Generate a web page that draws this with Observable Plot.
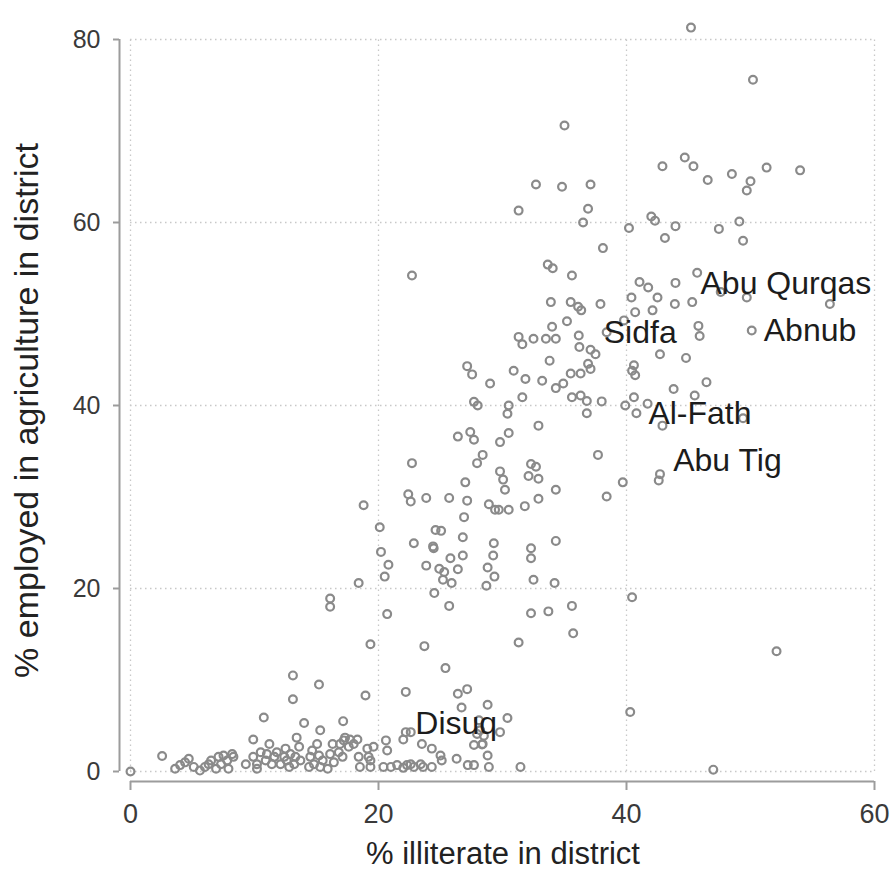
<!DOCTYPE html>
<html>
<head>
<meta charset="utf-8">
<script src="https://cdn.jsdelivr.net/npm/d3@7"></script>
<script src="https://cdn.jsdelivr.net/npm/@observablehq/plot@0.6"></script>
<style>
html, body { margin: 0; padding: 0; background: #fff; }
#chart svg { display: block; }
</style>
</head>
<body>
<div id="chart"></div>
<script>
// [% illiterate, % employed in agriculture] per district
const districtsLow = [
  [0,0],[2.55,1.7],[3.6,0.3],[4.0,0.7],[4.4,1.0],[4.7,1.4],[5.1,0.5],[5.6,0.1],[6.0,0.5],[6.3,0.8],
  [6.5,1.2],[6.9,0.3],[7.1,1.6],[7.3,0.8],[7.5,1.75],[7.8,1.2],[7.9,0.3],[8.2,1.9],[8.3,1.6],[9.3,0.8],
  [9.9,1.6],[9.9,3.5],[10.2,0.8],[10.2,0.3],[10.5,2.1],[10.9,1.2],[11.0,1.9],[11.2,3.0],[11.4,0.8],[11.6,1.6],
  [11.8,2.1],[12.1,0.8],[12.4,1.6],[12.5,2.5],[12.6,1.2],[12.8,0.5],[12.9,1.9],[13.2,0.8],[13.3,1.6],[13.4,3.7],
  [13.6,2.7],[13.7,1.2],[14.4,0.5],[14.5,1.6],[14.65,2.3],[14.8,0.8],[15.05,3.0],[15.2,1.75],[15.3,0.5],[15.5,1.2],
  [15.9,0.3],[16.1,1.9],[16.3,3.0],[16.4,1.0],[16.8,2.1],[16.9,3.0],[17.1,1.6],[17.2,3.4],[17.3,3.7],[17.6,2.7],
  [17.7,3.5],[18.0,3.0],[18.3,3.5],[18.4,1.6],[18.5,0.5],[19.1,2.5],[19.2,1.6],[19.35,0.5],[19.35,1.2],[19.6,2.7],
  [20.6,3.4],[20.7,2.3],[20.4,0.5],[21.0,0.5],[21.5,0.7],[22.0,3.5],[22.2,4.3],[22.6,4.3],[22.0,0.4],[22.3,0.7],
  [22.6,0.8],[22.85,0.5],[23.4,0.8],[23.6,0.5],[23.5,3.0],[24.3,0.5],[24.3,2.5],[25.0,1.75],[25.1,1.2],[26.3,1.4],
  [27.2,0.7],[27.7,0.7],[27.7,2.9],[28.4,3.0],[28.8,1.75],[28.9,0.5],[31.45,0.5],[27.95,4.1],[28.5,3.9],[28.2,4.5],
  [28.35,2.95],[28.1,5.6],[28.8,7.3],[29.8,4.3],[30.4,5.85],[47.0,0.2]
];
const districtsLowMid = [
  [10.75,5.9],[13.1,10.5],[13.1,7.9],[15.2,9.5],[14.0,5.3],[15.3,4.5],[17.15,5.5],[19.35,13.9],[18.95,8.3],[16.1,18.9],
  [16.1,18.0],[20.7,17.2],[25.7,18.1],[32.3,17.3],[23.7,13.7],[25.4,11.3],[31.3,14.1],[22.2,8.7],[26.4,8.5],[27.15,9.0],
  [26.7,7.0],[40.45,19.05],[52.1,13.15],[40.3,6.5],[33.7,17.5],[35.6,18.1],[35.7,15.1],[34.2,20.6],[34.3,25.2]
];
const districtsMid = [
  [27.15,44.3],[27.55,43.4],[29.0,42.4],[27.7,40.4],[28.0,40.0],[26.4,36.6],[27.4,37.1],[27.7,36.25],[29.8,36.0],[30.5,37.0],
  [32.9,37.8],[28.4,34.6],[27.95,33.7],[22.7,33.7],[29.8,32.8],[30.05,31.9],[30.2,30.8],[27.0,31.6],[32.3,33.6],[32.7,33.3],
  [32.1,32.3],[32.9,32.0],[22.4,30.3],[22.6,29.5],[23.85,29.9],[25.7,29.9],[27.15,29.6],[28.9,29.2],[29.4,28.6],[29.7,28.6],
  [30.5,28.6],[31.8,29.0],[32.9,29.8],[18.8,29.1],[26.9,27.8],[20.1,26.7],[24.6,26.4],[25.05,26.3],[22.85,24.95],[24.4,24.6],
  [24.45,24.4],[26.8,25.6],[29.3,24.95],[26.8,23.6],[29.25,23.6],[25.8,23.3],[32.3,24.4],[32.3,23.3],[20.2,24.0],[20.8,22.6],
  [20.5,21.3],[23.85,22.5],[24.9,22.15],[25.3,21.8],[25.2,20.95],[25.9,20.6],[26.4,22.1],[28.8,22.3],[29.35,21.3],[28.7,20.3],
  [32.5,20.95],[18.4,20.6],[24.5,19.5]
];
const districtsUpperMid = [
  [34.3,30.8],[39.7,31.6],[42.7,32.5],[42.6,31.8],[38.4,30.05],[37.7,34.6],[31.6,40.9],[30.5,40.0],[30.4,39.1],[30.9,43.8],
  [31.85,42.9],[33.2,42.7],[34.3,41.9],[34.9,42.4],[35.6,40.9],[36.3,41.1],[36.8,40.5],[36.8,39.15],[38.0,40.45],[39.9,40.0],
  [40.6,40.9],[40.8,39.15],[41.7,40.2],[43.8,41.8],[45.5,41.1],[46.45,42.55],[42.9,37.8],[49.4,38.6],[33.8,44.9],[36.9,44.55],
  [37.1,44.0],[36.3,43.5],[35.5,43.5],[40.6,44.4],[40.45,43.8],[40.7,43.3],[42.7,45.6],[44.8,45.2],[31.3,47.5],[31.6,46.7],
  [32.5,47.3],[33.5,47.3],[34.3,47.3],[36.15,47.65],[36.2,46.4],[37.1,46.1],[37.5,45.6],[35.2,49.2],[34.0,48.6],[38.4,48.0],
  [39.8,49.3],[45.8,48.7],[45.9,47.6],[50.1,48.2],[33.9,51.3],[35.5,51.3],[36.1,50.8],[36.35,50.4],[37.9,51.1],[40.4,51.8],
  [42.5,51.8],[43.9,51.1],[42.1,50.4],[40.7,50.2],[45.3,51.3],[47.6,52.4],[49.7,51.8],[56.4,51.1]
];
const districtsHigh = [
  [35.0,70.6],[32.7,64.15],[34.8,63.9],[37.1,64.15],[31.3,61.3],[36.9,61.5],[36.5,60.0],[40.2,59.4],[38.1,57.2],[42.0,60.65],
  [42.3,60.2],[43.95,59.6],[43.1,58.3],[42.9,66.15],[44.7,67.1],[45.4,66.15],[33.65,55.4],[34.05,55.0],[35.6,54.2],[41.05,53.5],
  [41.75,52.9],[43.95,53.4],[45.7,54.5],[22.7,54.2],[45.2,81.3],[50.2,75.6],[46.55,64.65],[48.5,65.3],[50.0,64.5],[49.7,63.5],
  [51.3,66.0],[54.0,65.7],[47.45,59.3],[49.1,60.1],[49.4,58.0]
];

// Labelled districts (position of the labelled district)
const labelNames = ["Abu Qurqas", "Sidfa", "Abnub", "Al-Fath", "Abu Tig", "Disuq"];
const labelIlliterate = [45.0, 37.2, 50.1, 40.8, 42.8, 22.0];
const labelAgriculture = [53.3, 48.0, 48.2, 39.1, 34.0, 5.25];

const xTicks = [0, 20, 40, 60];
const yTicks = [0, 20, 40, 60, 80];
const xTitle = "% illiterate in district";
const yTitle = "% employed in agriculture in district";

const districts = [...districtsLow, ...districtsLowMid, ...districtsMid, ...districtsUpperMid, ...districtsHigh]
  .map(([x, y]) => ({x, y}));
const labels = labelNames.map((name, i) => ({name, x: labelIlliterate[i], y: labelAgriculture[i]}));

const font = "'Liberation Sans', Arial, Helvetica, sans-serif";

const chart = Plot.plot({
  width: 891,
  height: 871,
  marginLeft: 119,
  marginRight: 17,
  marginTop: 39,
  marginBottom: 90,
  x: {domain: [0, 60], insetLeft: 11},
  y: {domain: [0, 80], insetBottom: 10},
  style: {fontFamily: font, background: "#fff", overflow: "visible"},
  marks: [
    // dotted grid
    Plot.ruleX(xTicks, {y1: 0, y2: 80, stroke: "#c8c8c8", strokeWidth: 1.3, strokeDasharray: "1.5,3.5"}),
    Plot.ruleY(yTicks, {x1: 0, x2: 60, stroke: "#c8c8c8", strokeWidth: 1.3, strokeDasharray: "1.5,3.5"}),
    // axis lines (offset from the data region, Stata style)
    Plot.ruleY([0], {x1: 0, x2: 60, dy: 10, stroke: "#9c9c9c", strokeWidth: 2}),
    Plot.ruleX([0], {y1: 0, y2: 80, dx: -11, stroke: "#9c9c9c", strokeWidth: 2}),
    Plot.axisX(xTicks, {tickSize: 9, tickPadding: 13, fontSize: 27, stroke: "#9c9c9c", strokeWidth: 2, fill: "#3a3a3a", label: null}),
    Plot.axisY(yTicks, {tickSize: 6, tickPadding: 13, fontSize: 25, stroke: "#9c9c9c", strokeWidth: 2, fill: "#3a3a3a", label: null}),
    // axis titles
    Plot.text([xTitle], {text: d => d, frameAnchor: "bottom", textAnchor: "middle", lineAnchor: "middle", dx: 6, dy: 73, fontSize: 31, fill: "#222"}),
    Plot.text([yTitle], {text: d => d, frameAnchor: "left", textAnchor: "middle", lineAnchor: "middle", rotate: -90, dx: -92, fontSize: 34, fill: "#222"}),
    // hollow circle markers
    Plot.dot(districts, {x: "x", y: "y", r: 3.9, stroke: "#8a8a8a", strokeWidth: 2.2, fill: "none"}),
    // district labels
    Plot.text(labels, {x: "x", y: "y", text: "name", textAnchor: "start", dx: 12, fontSize: 32, fill: "#1c1c1c"})
  ]
});

document.getElementById("chart").appendChild(chart);
</script>
</body>
</html>
